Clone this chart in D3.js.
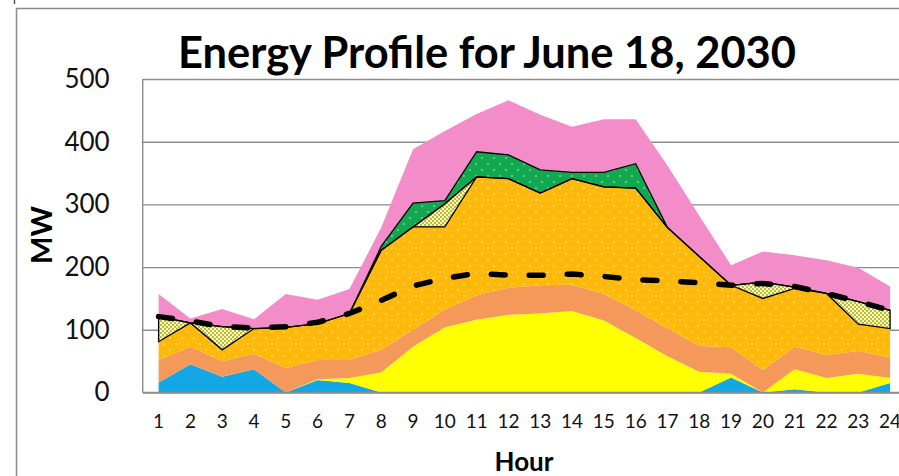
<!DOCTYPE html>
<html>
<head>
<meta charset="utf-8">
<script src="https://cdn.jsdelivr.net/npm/d3@7"></script>
<style>
  html, body { margin: 0; padding: 0; background: #fff; }
  svg { display: block; }
  text { font-family: Lato, "Open Sans", "Liberation Sans", sans-serif; }
</style>
</head>
<body>
<svg id="chart" width="899" height="476"></svg>
<script>
// Hourly energy profile, MW, hours 1..24
const hours = d3.range(1, 25);

// Stacked supply layers, bottom to top (MW per hour)
const hydro    = [16, 45, 25, 37, 0, 20, 15, 0, 0, 0, 0, 0, 0, 0, 0, 0, 0, 0, 24, 0, 5, 0, 0, 15];
const solar    = [0, 0, 0, 0, 0, 1, 8, 32, 73, 104, 116, 124, 126, 130, 115, 87, 58, 33, 6, 0, 32, 23, 30, 8];
const baseload = [36, 28, 25, 25, 39, 31, 29, 36, 27, 28, 39, 43, 45, 42, 42, 44, 44, 41, 42, 36, 36, 37, 36, 33];
const thermal  = [29, 38, 18, 40, 65, 58, 74, 159, 164, 132, 189, 174, 147, 169, 171, 195, 161, 143, 99, 114, 93, 98, 43, 46];
const imports  = [40, 0, 37, 0, 0, 0, 0, 0, 0, 37, 0, 0, 0, 0, 0, 0, 0, 0, 0, 26, 2, 0, 36, 29];
const storage  = [0, 0, 0, 0, 0, 0, 0, 6, 38, 5, 40, 38, 37, 10, 23, 39, 0, 0, 0, 0, 0, 0, 0, 0];
const surplus  = [36, 7, 28, 15, 53, 38, 39, 30, 86, 111, 60, 87, 88, 73, 85, 71, 99, 65, 32, 49, 51, 53, 54, 38];

// Hourly load (dashed line)
const load = [121, 114, 105, 103, 105, 112, 126, 147, 170, 182, 190, 187, 187, 189, 185, 180, 178, 175, 171, 174, 169, 158, 145, 131];

const yTicks = [0, 100, 200, 300, 400, 500];

const keys = ["hydro", "solar", "baseload", "thermal", "imports", "storage", "surplus"];
const series = { hydro, solar, baseload, thermal, imports, storage, surplus };
const rows = hours.map((h, i) => {
  const r = { hour: h };
  keys.forEach(k => { r[k] = series[k][i]; });
  return r;
});

const svg = d3.select("#chart");

// Plot frame
const plotLeft = 142.7, plotRight = 906, plotTop = 79, plotBottom = 392.5;

const x = d3.scaleBand().domain(hours).range([plotLeft, plotRight]).paddingInner(0).paddingOuter(0);
const cx = h => x(h) + x.bandwidth() / 2;
const y = d3.scaleLinear().domain([0, 500]).range([plotBottom, plotTop]);

// Fill patterns
const defs = svg.append("defs");
function dotPattern(id, w, h, bg, dots, color, r, opacity) {
  const p = defs.append("pattern").attr("id", id)
    .attr("patternUnits", "userSpaceOnUse").attr("width", w).attr("height", h);
  p.append("rect").attr("width", w).attr("height", h).attr("fill", bg);
  dots.forEach(([dx, dy]) => {
    p.append("circle").attr("cx", dx).attr("cy", dy).attr("r", r)
      .attr("fill", color).attr("fill-opacity", opacity);
  });
}
dotPattern("p-thermal", 12, 12, "#FFB90A", [[2, 2], [8, 8]], "#ffffff", 0.8, 0.75);
dotPattern("p-storage", 12, 12, "#12A84F", [[2, 2], [8, 8]], "#ffffff", 0.8, 0.75);
dotPattern("p-imports", 4, 4, "#FFFF8C", [[1, 1], [3, 3]], "#333333", 0.75, 0.9);

const fills = {
  hydro: "#14A7E6",
  solar: "#FFFF00",
  baseload: "#F4995A",
  thermal: "url(#p-thermal)",
  imports: "url(#p-imports)",
  storage: "url(#p-storage)",
  surplus: "#F38DC9"
};
const outlined = { imports: true, storage: true };

// Outer chart border
svg.append("line").attr("x1", 16).attr("y1", 8.5).attr("x2", 899).attr("y2", 8.5)
  .attr("stroke", "#8a8a8a").attr("stroke-width", 1.5);
svg.append("line").attr("x1", 16.5).attr("y1", 8).attr("x2", 16.5).attr("y2", 476)
  .attr("stroke", "#8a8a8a").attr("stroke-width", 1.5);
svg.append("line").attr("x1", 14.5).attr("y1", 0).attr("x2", 14.5).attr("y2", 4)
  .attr("stroke", "#555").attr("stroke-width", 1.5);

// Gridlines and y labels
const yAxis = svg.append("g").attr("transform", `translate(${plotLeft},0)`)
  .call(d3.axisLeft(y).tickValues(yTicks).tickSize(-(899 - plotLeft)).tickPadding(33));
yAxis.select(".domain").remove();
yAxis.selectAll(".tick line").attr("stroke", "#8c8c8c").attr("stroke-width", 1.4);
yAxis.selectAll(".tick text").attr("font-size", 26).attr("fill", "#111")
  .attr("font-family", "Lato, 'Open Sans', sans-serif");

// Stacked areas
const stack = d3.stack().keys(keys);
const layers = stack(rows);
const area = d3.area()
  .x(d => cx(d.data.hour))
  .y0(d => y(d[0]))
  .y1(d => y(d[1]));

svg.append("g").selectAll("path").data(layers).join("path")
  .attr("d", area)
  .attr("fill", d => fills[d.key])
  .attr("stroke", "none");

// Outlines of the bordered layers, drawn above all fills
svg.append("g").selectAll("path").data(layers.filter(l => outlined[l.key])).join("path")
  .attr("d", area)
  .attr("fill", "none")
  .attr("stroke", "#000")
  .attr("stroke-width", 1.3);

// Plot area left edge and baseline
svg.append("line").attr("x1", plotLeft).attr("y1", plotTop).attr("x2", plotLeft).attr("y2", plotBottom)
  .attr("stroke", "#8c8c8c").attr("stroke-width", 1.4);
svg.append("line").attr("x1", plotLeft).attr("y1", plotBottom).attr("x2", 899).attr("y2", plotBottom)
  .attr("stroke", "#8c8c8c").attr("stroke-width", 1.6);

// Load line
const line = d3.line().x((d, i) => cx(hours[i])).y(d => y(d));
svg.append("path").datum(load)
  .attr("d", line)
  .attr("fill", "none")
  .attr("stroke", "#000")
  .attr("stroke-width", 5.5)
  .attr("stroke-dasharray", "14 24")
  .attr("stroke-linecap", "round");

// X axis labels
const xAxis = svg.append("g").attr("transform", `translate(0,${plotBottom})`)
  .call(d3.axisBottom(x).tickSize(0).tickPadding(22));
xAxis.select(".domain").remove();
xAxis.selectAll(".tick text").attr("font-size", 19).attr("fill", "#111")
  .attr("font-family", "Lato, 'Open Sans', sans-serif");

// Titles
svg.append("text")
  .attr("x", 487).attr("y", 68)
  .attr("text-anchor", "middle")
  .attr("font-size", 43).attr("font-weight", "bold").attr("fill", "#000")
  .attr("textLength", 618).attr("lengthAdjust", "spacingAndGlyphs")
  .text("Energy Profile for June 18, 2030");

svg.append("text")
  .attr("transform", "translate(52,235) rotate(-90)")
  .attr("text-anchor", "middle")
  .attr("font-size", 29).attr("font-weight", "bold").attr("fill", "#000")
  .text("MW");

svg.append("text")
  .attr("x", 524).attr("y", 471)
  .attr("text-anchor", "middle")
  .attr("font-size", 26).attr("font-weight", "bold").attr("fill", "#000")
  .text("Hour");
</script>
</body>
</html>
